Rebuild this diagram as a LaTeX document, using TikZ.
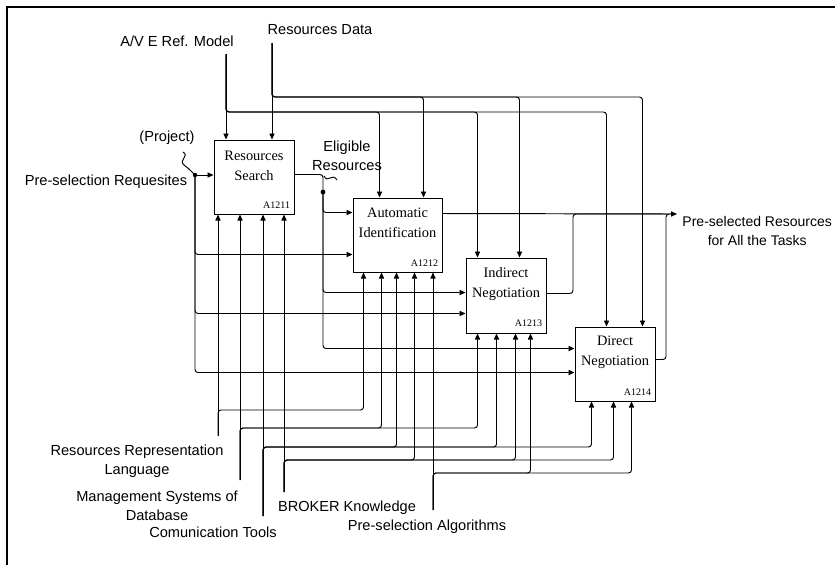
\documentclass[tikz,border=0pt]{standalone}
\usepackage{fontspec}
\setmainfont{Liberation Serif}
\newfontfamily\labelfont{Liberation Sans}
\usetikzlibrary{arrows.meta,calc}

\tikzset{
  procbox/.style={draw, line width=0.5pt, minimum width=40pt, minimum height=37pt, inner sep=0pt},
  boxtitle/.style={align=center, font=\fontsize{7.2}{10}\selectfont, inner sep=0pt},
  boxid/.style={anchor=south east, font=\fontsize{5}{6}\selectfont, inner xsep=2pt, inner ysep=3pt},
  txt/.style={align=center, font=\labelfont\fontsize{7.3}{9.6}\selectfont, inner sep=0pt},
  flow/.style={-{Triangle[length=3pt,width=2.6pt]}, rounded corners=1.5pt},
  wire/.style={rounded corners=1.5pt}
}

\begin{document}
\begin{tikzpicture}[x=0.5pt, y=-0.5pt, line width=0.48pt]
        \useasboundingbox (0,0) rectangle (835,564);
        % Frame
        \begin{scope}
            \clip (0,0) rectangle (835,564);
            \draw[line width=0.6pt] (7,7) rectangle (860,590);
        \end{scope}

        % Activities
        \node[procbox] (search) at (254,177) {};
        \node[procbox, minimum width=44.5pt] (auto) at (397.5,235) {};
        \node[procbox, minimum height=37.5pt] (indirect) at (506,295.5) {};
        \node[procbox] (direct) at (615,364) {};
        \node[boxtitle] (search-t) at ([yshift=5.5pt]search.center) {Resources\\Search};
        \node[boxtitle] (auto-t) at ([yshift=6pt]auto.center) {Automatic\\Identification};
        \node[boxtitle] (indirect-t) at ([yshift=5.75pt]indirect.center) {Indirect\\Negotiation};
        \node[boxtitle] (direct-t) at ([yshift=5.75pt]direct.center) {Direct\\Negotiation};
        \foreach \b/\id in {search/A1211, auto/A1212, indirect/A1213, direct/A1214} {
            \node[boxid] (\b-id) at (\b.south east) {\id};
        }

        % Labels
        \node[txt] (avm) at (177,41) {A/V E Ref. Model};
        \node[txt] (resdata) at (320,30) {Resources Data};
        \node[txt] (project) at (167,138) {(Project)};
        \node[txt] (prereq) at (106,182) {Pre-selection Requesites};
        \node[txt] (eligible) at (347,156) {Eligible\\Resources};
        \node[txt, anchor=west, font=\labelfont\fontsize{7}{9.8}\selectfont] (preres) at (682,231) {Pre-selected Resources\\for All the Tasks};
        \node[txt] (rrlang) at (137,461.5) {Resources Representation\\Language};
        \node[txt] (msdb) at (157,505.5) {Management Systems of\\Database};
        \node[txt] (comtools) at (213,532) {Comunication Tools};
        \node[txt] (broker) at (347,508) {BROKER Knowledge};
        \node[txt] (prealg) at (427,527) {Pre-selection Algorithms};

        % Line ends and branch points
        \coordinate (av) at (226,54);   \coordinate (av-bus) at (226,112);
        \coordinate (rd) at (272,43);   \coordinate (rd-bus) at (272,97);
        \coordinate (projtail) at (183,152);
        \coordinate (prj) at (195,175);
        \coordinate (erj) at (323,192);
        \coordinate (out) at (677,214);
        \coordinate (rrl) at (218,436); \coordinate (rrl-bus) at (218,410);
        \coordinate (msd) at (240,480); \coordinate (msd-bus) at (240,428);
        \coordinate (ct) at (263,516);  \coordinate (ct-bus) at (263,447);
        \coordinate (bk) at (284,492);  \coordinate (bk-bus) at (284,460);
        \coordinate (pa) at (433,510);  \coordinate (pa-bus) at (433,473);

        % Controls
        \draw[flow] (av) -- (av |- search.north);
        \draw[flow] (rd) -- (rd |- search.north);
        \foreach \b/\dx in {auto/27, indirect/12, direct/32} {
            \draw[flow] (av) -- (av-bus) -| ($(\b.north west)+(\dx,0)$);
        }
        \foreach \b/\dx in {auto/71, indirect/54, direct/68} {
            \draw[flow] (rd) -- (rd-bus) -| ($(\b.north west)+(\dx,0)$);
        }

        % Pre-selection requesites
        \draw (projtail) .. controls (190,156) and (178,160) .. (184,165) .. controls (188,168) .. (prj);
        \fill (prj) circle[radius=1.1pt];
        \draw[flow] (prj) -- (prj -| search.west);
        \foreach \b/\dy in {auto/57, indirect/56, direct/46} {
            \draw[flow] (prj) |- ($(\b.north west)+(0,\dy)$);
        }

        % Eligible resources
        \draw[wire] ($(search.north east)+(0,35)$) -| (erj);
        \draw (324,176) .. controls (328,184) and (332,172) .. (337,180);
        \fill (erj) circle[radius=1.2pt];
        \foreach \b/\dy in {auto/15, indirect/35, direct/22} {
            \draw[flow] (erj) |- ($(\b.north west)+(0,\dy)$);
        }

        % Outputs
        \draw[flow] ($(auto.north east)+(0,16)$) -- (out);
        \draw[wire] ($(indirect.north east)+(0,36)$) -| ($(out)+(-104,0)$) -- ($(out)+(-10,0)$);
        \draw[wire] ($(direct.north east)+(0,33)$) -| ($(out)+(-11,0)$) -- ($(out)+(-4,0)$);

        % Mechanisms
        \foreach \m in {rrl, msd, ct, bk} {
            \draw[flow] (\m) -- (\m |- search.south);
        }
        \draw[flow] (pa) -- (pa |- auto.south);
        \foreach \m/\b/\dx in {rrl/auto/11, msd/auto/29, msd/indirect/12, ct/auto/44, ct/indirect/31, ct/direct/17, bk/auto/62, bk/indirect/50, bk/direct/39, pa/indirect/65, pa/direct/57} {
            \draw[flow] (\m) -- (\m-bus) -| ($(\b.south west)+(\dx,0)$);
        }
    \end{tikzpicture}
\end{document}
